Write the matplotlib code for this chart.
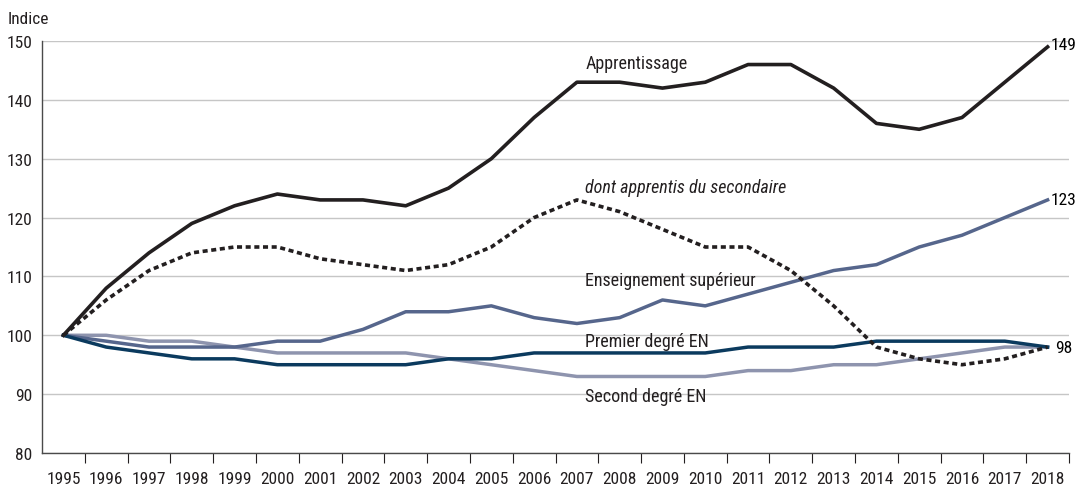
import matplotlib
matplotlib.use('Agg')
import matplotlib.pyplot as plt
from matplotlib import font_manager

annees = [str(a) for a in range(1995, 2019)]
apprentissage = [100, 108, 114, 119, 122, 124, 123, 123, 122, 125, 130, 137,
                 143, 143, 142, 143, 146, 146, 142, 136, 135, 137, 143, 149]
secondaire = [100, 106, 111, 114, 115, 115, 113, 112, 111, 112, 115, 120,
              123, 121, 118, 115, 115, 111, 105, 98, 96, 95, 96, 98]
superieur = [100, 99, 98, 98, 98, 99, 99, 101, 104, 104, 105, 103,
             102, 103, 106, 105, 107, 109, 111, 112, 115, 117, 120, 123]
premier = [100, 98, 97, 96, 96, 95, 95, 95, 95, 96, 96, 97,
           97, 97, 97, 97, 98, 98, 98, 99, 99, 99, 99, 98]
second = [100, 100, 99, 99, 98, 97, 97, 97, 97, 96, 95, 94,
          93, 93, 93, 93, 94, 94, 95, 95, 96, 97, 98, 98]

# police étroite si disponible
polices = [(f.name, f.stretch) for f in font_manager.fontManager.ttflist]
police = 'DejaVu Sans'
etirement = 'normal'
for nom in ['Liberation Sans Narrow', 'Roboto Condensed', 'Open Sans Condensed']:
    if any(n == nom for n, _ in polices):
        police = nom
        break
else:
    if any(n == 'DejaVu Sans' and s in ('condensed', 'semi-condensed') for n, s in polices):
        etirement = 'condensed'
plt.rcParams['font.family'] = [police, 'DejaVu Sans']
plt.rcParams['font.stretch'] = etirement

fig = plt.figure(figsize=(10.76, 4.85), dpi=100)
ax = fig.add_axes([42 / 1076, 31 / 485, 1027 / 1076, 412 / 485])

x = list(range(len(annees)))
ax.plot(x, second, color='#8e94ae', lw=2.5)
ax.plot(x, superieur, color='#56668c', lw=2.5)
ax.plot(x, premier, color='#0b3a5e', lw=2.5)
ax.plot(x, secondaire, color='#231f20', lw=2.6, linestyle=(0, (1.4, 1.0)))
ax.plot(x, apprentissage, color='#231f20', lw=2.6)

ax.set_xlim(-0.5, len(annees) - 0.5)
ax.set_ylim(80, 150)
ax.set_yticks(range(80, 151, 10))
ax.yaxis.grid(True, color='#c6c6c6', lw=1)
ax.set_axisbelow(True)
ax.tick_params(axis='y', length=0, labelsize=12.5, pad=7, colors='#231f20')

ax.set_xticks([i + 0.5 for i in range(len(annees))])
ax.set_xticklabels([])
ax.set_xticks(x, minor=True)
ax.set_xticklabels(annees, minor=True)
ax.tick_params(axis='x', which='major', length=7.5, direction='out', color='#231f20')
ax.tick_params(axis='x', which='minor', length=0, labelsize=12.5, pad=13, colors='#231f20')

for s in ['top', 'right']:
    ax.spines[s].set_visible(False)
for s in ['left', 'bottom']:
    ax.spines[s].set_color('#4a4a4a')
    ax.spines[s].set_linewidth(1)

fs = 13
ax.text(12.2, 146.3, 'Apprentissage', fontsize=fs, va='center', color='#231f20')
ax.text(12.2, 125.2, 'dont apprentis du secondaire', fontsize=fs, va='center',
        style='italic', color='#231f20')
ax.text(12.2, 109.4, 'Enseignement supérieur', fontsize=fs, va='center', color='#231f20')
ax.text(12.2, 99.1, 'Premier degré EN', fontsize=fs, va='center', color='#231f20')
ax.text(12.2, 89.7, 'Second degré EN', fontsize=fs, va='center', color='#231f20')

ax.text(23.06, apprentissage[-1] + 0.4, str(apprentissage[-1]), fontsize=12.5, va='center')
ax.text(23.06, superieur[-1], str(superieur[-1]), fontsize=12.5, va='center')
ax.text(23.18, premier[-1], str(premier[-1]), fontsize=12.5, va='center')

fig.text(8 / 1076, 1 - 20 / 485, 'Indice', fontsize=12.5, va='center', color='#231f20')

fig.savefig('out.png', dpi=100)
